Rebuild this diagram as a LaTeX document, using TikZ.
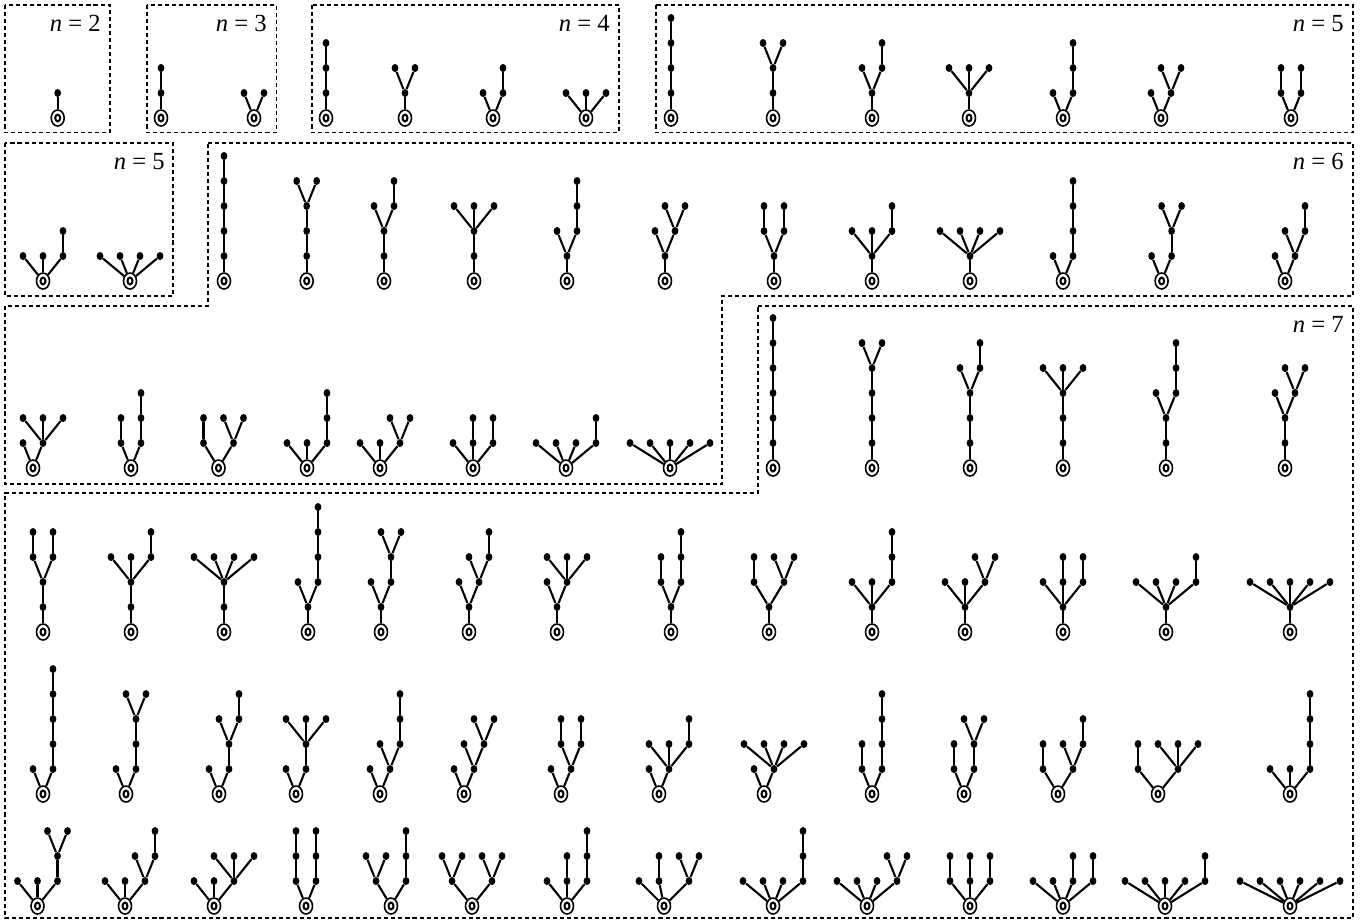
\documentclass[tikz,border=0pt]{standalone}
\usepackage{fontspec}
\setmainfont{Liberation Serif}
\usetikzlibrary{shapes.geometric}

\tikzset{
  vtx/.style={ellipse, fill, inner sep=0pt, minimum width=0.135cm, minimum height=0.16cm},
  rootv/.style={ellipse, draw, fill=white, line width=0.9pt, inner sep=0pt,
    minimum width=0.26cm, minimum height=0.32cm,
    path picture={\draw[line width=1.15pt] (path picture bounding box.center) ellipse (0.05cm and 0.068cm);}},
  link/.style={line width=1.2pt},
  dbox/.style={line width=0.85pt, dash pattern=on 2.3pt off 1.7pt},
  lab/.style={anchor=base east, inner sep=0pt, font=\fontsize{14}{16}\selectfont}
}

% rooted tree: name, root x, root y, list of parent/offset/level
\newcommand\rtree[4]{%
  \node[rootv] (#1-0) at (#2,#3) {};
  \foreach \p/\dx/\l [count=\i] in {#4} {
    \node[vtx] (#1-\i) at ({#2+20*\dx},{#3-25*\l}) {};
    \draw[link] (#1-\p) -- (#1-\i);
  }
}

\begin{document}
\begin{tikzpicture}[x=0.02cm, y=-0.02cm]
  \useasboundingbox (0,0) rectangle (1364,923);

  % frames
  \draw[dbox] (5,5) rectangle (110,132.5);
  \draw[dbox] (147,5) rectangle (276.5,132.5);
  \draw[dbox] (312,5) rectangle (619,132.5);
  \draw[dbox] (656,5) rectangle (1353,132.5);
  \draw[dbox] (5,143) rectangle (173,296);
  \draw[dbox] (208,143) -- (1353,143) -- (1353,296) -- (722,296) -- (722,484)
    -- (5,484) -- (5,306) -- (208,306) -- cycle;
  \draw[dbox] (758,306) -- (1353,306) -- (1353,918) -- (5,918) -- (5,493)
    -- (758,493) -- cycle;

  \node[lab] (lab2) at (101,31.5) {\textit{n} = 2};
  \node[lab] (lab3) at (267,31.5) {\textit{n} = 3};
  \node[lab] (lab4) at (610,31.5) {\textit{n} = 4};
  \node[lab] (lab5) at (1344,31.5) {\textit{n} = 5};
  \node[lab] (lab5b) at (165,169.5) {\textit{n} = 5};
  \node[lab] (lab6) at (1344,169.5) {\textit{n} = 6};
  \node[lab] (lab7) at (1344,332.5) {\textit{n} = 7};

  % n = 2, 3, 4
  \rtree{n2a}{57.7}{118}{0/0/1}
  \rtree{n3a}{161}{118}{0/0/1,1/0/2}
  \rtree{n3b}{254}{118}{0/-0.5/1,0/0.5/1}
  \rtree{n4a}{326}{118}{0/0/1,1/0/2,2/0/3}
  \rtree{n4b}{405}{118}{0/0/1,1/-0.5/2,1/0.5/2}
  \rtree{n4c}{493}{118}{0/-0.5/1,0/0.5/1,2/0.5/2}
  \rtree{n4d}{586}{118}{0/-1/1,0/0/1,0/1/1}

  % n = 5
  \rtree{n5a}{671}{118}{0/0/1,1/0/2,2/0/3,3/0/4}
  \rtree{n5b}{773}{118}{0/0/1,1/0/2,2/-0.5/3,2/0.5/3}
  \rtree{n5c}{872}{118}{0/0/1,1/-0.5/2,1/0.5/2,3/0.5/3}
  \rtree{n5d}{969}{118}{0/0/1,1/-1/2,1/0/2,1/1/2}
  \rtree{n5e}{1063}{118}{0/-0.5/1,0/0.5/1,2/0.5/2,3/0.5/3}
  \rtree{n5f}{1161}{118}{0/-0.5/1,0/0.5/1,2/0/2,2/1/2}
  \rtree{n5g}{1291}{118}{0/-0.5/1,1/-0.5/2,0/0.5/1,3/0.5/2}
  \rtree{n5h}{43}{281}{0/-1/1,0/0/1,0/1/1,3/1/2}
  \rtree{n5i}{130}{281}{0/-1.5/1,0/-0.5/1,0/0.5/1,0/1.5/1}

  % n = 6
  \rtree{n6a}{224}{281}{0/0/1,1/0/2,2/0/3,3/0/4,4/0/5}
  \rtree{n6b}{306.7}{281}{0/0/1,1/0/2,2/0/3,3/-0.5/4,3/0.5/4}
  \rtree{n6c}{384}{281}{0/0/1,1/0/2,2/-0.5/3,2/0.5/3,4/0.5/4}
  \rtree{n6d}{474}{281}{0/0/1,1/0/2,2/-1/3,2/0/3,2/1/3}
  \rtree{n6e}{567}{281}{0/0/1,1/-0.5/2,1/0.5/2,3/0.5/3,4/0.5/4}
  \rtree{n6f}{665}{281}{0/0/1,1/-0.5/2,1/0.5/2,3/0/3,3/1/3}
  \rtree{n6g}{774}{281}{0/0/1,1/-0.5/2,2/-0.5/3,1/0.5/2,4/0.5/3}
  \rtree{n6h}{872}{281}{0/0/1,1/-1/2,1/0/2,1/1/2,4/1/3}
  \rtree{n6i}{970}{281}{0/0/1,1/-1.5/2,1/-0.5/2,1/0.5/2,1/1.5/2}
  \rtree{n6j}{1063}{281}{0/-0.5/1,0/0.5/1,2/0.5/2,3/0.5/3,4/0.5/4}
  \rtree{n6k}{1161.6}{281}{0/-0.5/1,0/0.5/1,2/0.5/2,3/0/3,3/1/3}
  \rtree{n6l}{1285}{281}{0/-0.5/1,0/0.5/1,2/0/2,2/1/2,4/1/3}
  \rtree{n6m}{33}{468}{0/-0.5/1,0/0.5/1,2/-0.5/2,2/0.5/2,2/1.5/2}
  \rtree{n6n}{131}{468}{0/-0.5/1,1/-0.5/2,0/0.5/1,3/0.5/2,4/0.5/3}
  \rtree{n6o}{218.5}{468}{0/-0.75/1,1/-0.75/2,0/0.75/1,3/0.25/2,3/1.25/2}
  \rtree{n6p}{307}{468}{0/-1/1,0/0/1,0/1/1,3/1/2,4/1/3}
  \rtree{n6q}{380}{468}{0/-1/1,0/0/1,0/1/1,3/0.5/2,3/1.5/2}
  \rtree{n6r}{473}{468}{0/-1/1,0/0/1,2/0/2,0/1/1,4/1/2}
  \rtree{n6s}{566}{468}{0/-1.5/1,0/-0.5/1,0/0.5/1,0/1.5/1,4/1.5/2}
  \rtree{n6t}{670}{468}{0/-2/1,0/-1/1,0/0/1,0/1/1,0/2/1}

  % n = 7
  \rtree{n7a}{773}{468}{0/0/1,1/0/2,2/0/3,3/0/4,4/0/5,5/0/6}
  \rtree{n7b}{872}{468}{0/0/1,1/0/2,2/0/3,3/0/4,4/-0.5/5,4/0.5/5}
  \rtree{n7c}{970}{468}{0/0/1,1/0/2,2/0/3,3/-0.5/4,3/0.5/4,5/0.5/5}
  \rtree{n7d}{1063}{468}{0/0/1,1/0/2,2/0/3,3/-1/4,3/0/4,3/1/4}
  \rtree{n7e}{1166}{468}{0/0/1,1/0/2,2/-0.5/3,2/0.5/3,4/0.5/4,5/0.5/5}
  \rtree{n7f}{1285}{468}{0/0/1,1/0/2,2/-0.5/3,2/0.5/3,4/0/4,4/1/4}

  \rtree{n7g}{43}{632}{0/0/1,1/0/2,2/-0.5/3,3/-0.5/4,2/0.5/3,5/0.5/4}
  \rtree{n7h}{131}{632}{0/0/1,1/0/2,2/-1/3,2/0/3,2/1/3,5/1/4}
  \rtree{n7i}{224}{632}{0/0/1,1/0/2,2/-1.5/3,2/-0.5/3,2/0.5/3,2/1.5/3}
  \rtree{n7j}{308}{632}{0/0/1,1/-0.5/2,1/0.5/2,3/0.5/3,4/0.5/4,5/0.5/5}
  \rtree{n7k}{381}{632}{0/0/1,1/-0.5/2,1/0.5/2,3/0.5/3,4/0/4,4/1/4}
  \rtree{n7l}{469}{632}{0/0/1,1/-0.5/2,1/0.5/2,3/0/3,3/1/3,5/1/4}
  \rtree{n7m}{557}{632}{0/0/1,1/-0.5/2,1/0.5/2,3/-0.5/3,3/0.5/3,3/1.5/3}
  \rtree{n7n}{671}{632}{0/0/1,1/-0.5/2,2/-0.5/3,1/0.5/2,4/0.5/3,5/0.5/4}
  \rtree{n7o}{769}{632}{0/0/1,1/-0.75/2,2/-0.75/3,1/0.75/2,4/0.25/3,4/1.25/3}
  \rtree{n7p}{872}{632}{0/0/1,1/-1/2,1/0/2,1/1/2,4/1/3,5/1/4}
  \rtree{n7q}{965}{632}{0/0/1,1/-1/2,1/0/2,1/1/2,4/0.5/3,4/1.5/3}
  \rtree{n7r}{1063}{632}{0/0/1,1/-1/2,1/0/2,3/0/3,1/1/2,5/1/3}
  \rtree{n7s}{1166}{632}{0/0/1,1/-1.5/2,1/-0.5/2,1/0.5/2,1/1.5/2,5/1.5/3}
  \rtree{n7t}{1290}{632}{0/0/1,1/-2/2,1/-1/2,1/0/2,1/1/2,1/2/2}

  \rtree{n7u}{43}{794}{0/-0.5/1,0/0.5/1,2/0.5/2,3/0.5/3,4/0.5/4,5/0.5/5}
  \rtree{n7v}{126}{794}{0/-0.5/1,0/0.5/1,2/0.5/2,3/0.5/3,4/0/4,4/1/4}
  \rtree{n7w}{219}{794}{0/-0.5/1,0/0.5/1,2/0.5/2,3/0/3,3/1/3,5/1/4}
  \rtree{n7x}{296}{794}{0/-0.5/1,0/0.5/1,2/0.5/2,3/-0.5/3,3/0.5/3,3/1.5/3}
  \rtree{n7y}{380}{794}{0/-0.5/1,0/0.5/1,2/0/2,2/1/2,4/1/3,5/1/4}
  \rtree{n7z}{464}{794}{0/-0.5/1,0/0.5/1,2/0/2,2/1/2,4/0.5/3,4/1.5/3}
  \rtree{n7A}{561}{794}{0/-0.5/1,0/0.5/1,2/0/2,3/0/3,2/1/2,5/1/3}
  \rtree{n7B}{659}{794}{0/-0.5/1,0/0.5/1,2/-0.5/2,2/0.5/2,2/1.5/2,5/1.5/3}
  \rtree{n7C}{764}{794}{0/-0.5/1,0/0.5/1,2/-1/2,2/0/2,2/1/2,2/2/2}
  \rtree{n7D}{872}{794}{0/-0.5/1,1/-0.5/2,0/0.5/1,3/0.5/2,4/0.5/3,5/0.5/4}
  \rtree{n7E}{964}{794}{0/-0.5/1,1/-0.5/2,0/0.5/1,3/0.5/2,4/0/3,4/1/3}
  \rtree{n7F}{1058}{794}{0/-0.75/1,1/-0.75/2,0/0.75/1,3/0.25/2,3/1.25/2,5/1.25/3}
  \rtree{n7G}{1158}{794}{0/-1/1,1/-1/2,0/1/1,3/0/2,3/1/2,3/2/2}
  \rtree{n7H}{1290}{794}{0/-1/1,0/0/1,0/1/1,3/1/2,4/1/3,5/1/4}

  \rtree{n7I}{37.5}{906}{0/-1/1,0/0/1,0/1/1,3/1/2,4/0.5/3,4/1.5/3}
  \rtree{n7J}{125}{906}{0/-1/1,0/0/1,0/1/1,3/0.5/2,3/1.5/2,5/1.5/3}
  \rtree{n7K}{214}{906}{0/-1/1,0/0/1,0/1/1,3/0/2,3/1/2,3/2/2}
  \rtree{n7L}{306}{906}{0/-0.5/1,1/-0.5/2,2/-0.5/3,0/0.5/1,4/0.5/2,5/0.5/3}
  \rtree{n7M}{391}{906}{0/-0.75/1,1/-1.25/2,1/-0.25/2,0/0.75/1,4/0.75/2,5/0.75/3}
  \rtree{n7N}{472}{906}{0/-1/1,1/-1.5/2,1/-0.5/2,0/1/1,4/0.5/2,4/1.5/2}
  \rtree{n7O}{567}{906}{0/-1/1,0/0/1,2/0/2,0/1/1,4/1/2,5/1/3}
  \rtree{n7P}{664}{906}{0/-1.25/1,0/-0.25/1,2/-0.25/2,0/1.25/1,4/0.75/2,4/1.75/2}
  \rtree{n7Q}{773}{906}{0/-1.5/1,0/-0.5/1,0/0.5/1,0/1.5/1,4/1.5/2,5/1.5/3}
  \rtree{n7R}{867}{906}{0/-1.5/1,0/-0.5/1,0/0.5/1,0/1.5/1,4/1/2,4/2/2}
  \rtree{n7S}{970}{906}{0/-1/1,1/-1/2,0/0/1,3/0/2,0/1/1,5/1/2}
  \rtree{n7T}{1063}{906}{0/-1.5/1,0/-0.5/1,0/0.5/1,3/0.5/2,0/1.5/1,5/1.5/2}
  \rtree{n7U}{1165}{906}{0/-2/1,0/-1/1,0/0/1,0/1/1,0/2/1,5/2/2}
  \rtree{n7V}{1290}{906}{0/-2.5/1,0/-1.5/1,0/-0.5/1,0/0.5/1,0/1.5/1,0/2.5/1}
\end{tikzpicture}
\end{document}
